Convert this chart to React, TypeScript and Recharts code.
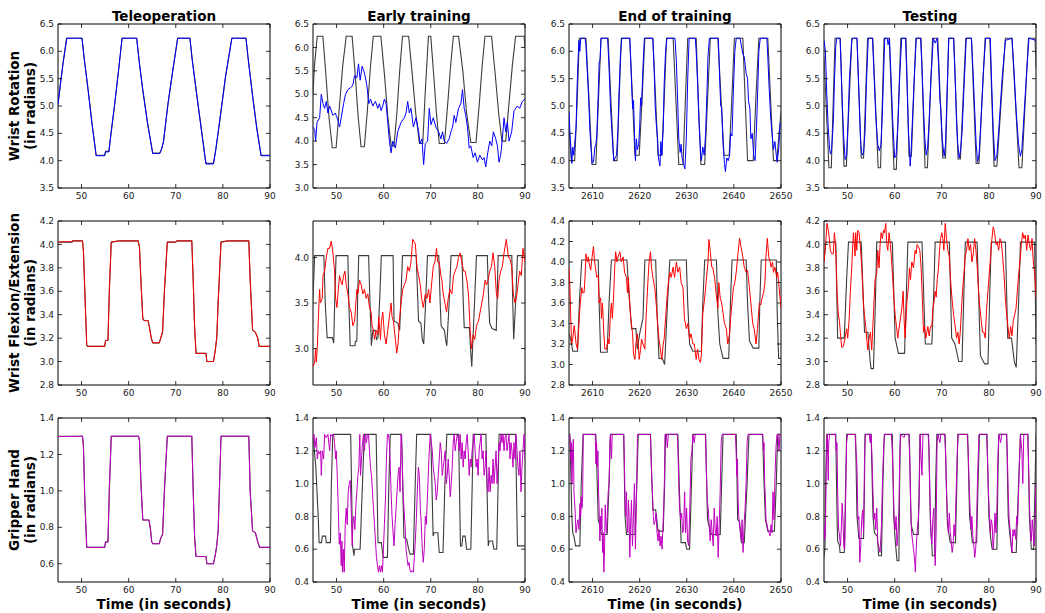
import React from 'react';
import { LineChart, Line, XAxis, YAxis, ReferenceArea } from 'recharts';

type Pt = [number, number];

// ---------- tick labels ----------
const xTicksSec = [50, 60, 70, 80, 90];
const xTicksEnd = [2610, 2620, 2630, 2640, 2650];
const yTicksRot = [3.5, 4.0, 4.5, 5.0, 5.5, 6.0, 6.5];
const yTicksRotEarly = [3.0, 3.5, 4.0, 4.5, 5.0, 5.5, 6.0, 6.5];
const yTicksFlex = [2.8, 3.0, 3.2, 3.4, 3.6, 3.8, 4.0, 4.2];
const yTicksFlexEarly = [3.0, 3.5, 4.0];
const yTicksFlexEnd = [2.8, 3.0, 3.2, 3.4, 3.6, 3.8, 4.0, 4.2, 4.4];
const yTicksGripTele = [0.6, 0.8, 1.0, 1.2, 1.4];
const yTicksGrip = [0.4, 0.6, 0.8, 1.0, 1.2, 1.4];

const columnTitles = ['Teleoperation', 'Early training', 'End of training', 'Testing'];
const rowLabels = ['Wrist Rotation', 'Wrist Flexion/Extension', 'Gripper Hand'];
const rowSubLabel = '(in radians)';
const xLabel = 'Time (in seconds)';

// ---------- Wrist rotation ----------
const rotTeleRef: Pt[] = [[45,5.05],[45.5,5.4],[46.1,5.8],[46.8,6.24],[50.1,6.24],[50.6,5.85],[51.4,5.3],[52.2,4.7],[53.1,4.1],[54.9,4.1],[55.1,4.17],[55.8,4.17],[56.2,4.45],[57.0,5.0],[57.8,5.6],[58.6,6.24],[61.7,6.24],[62.2,5.85],[63.0,5.3],[64.0,4.7],[65.1,4.14],[66.6,4.14],[67.0,4.22],[67.4,4.35],[68.3,5.0],[69.3,5.6],[70.4,6.24],[73.0,6.24],[73.5,5.85],[74.4,5.25],[75.4,4.6],[76.4,3.95],[78.0,3.95],[78.5,4.2],[79.3,4.7],[80.6,5.55],[81.9,6.24],[84.9,6.24],[85.4,5.85],[86.3,5.2],[87.2,4.6],[88.1,4.1],[90,4.1]];
const rotTeleAct: Pt[] = [[45,5.02],[45.5,5.38],[46.1,5.8],[46.9,6.24],[50.1,6.24],[50.6,5.83],[51.4,5.28],[52.2,4.68],[53.1,4.09],[54.9,4.09],[55.1,4.16],[55.8,4.16],[56.2,4.47],[57.0,5.02],[57.8,5.62],[58.6,6.24],[61.7,6.24],[62.2,5.83],[63.0,5.28],[64.0,4.68],[65.1,4.13],[66.6,4.13],[67.0,4.21],[67.4,4.36],[68.3,5.02],[69.3,5.62],[70.4,6.24],[73.0,6.24],[73.5,5.83],[74.4,5.23],[75.4,4.58],[76.4,3.94],[78.0,3.94],[78.5,4.21],[79.3,4.72],[80.6,5.57],[81.9,6.24],[84.9,6.24],[85.4,5.83],[86.3,5.18],[87.2,4.58],[88.1,4.09],[90,4.09]];

const rotEarlyRef: Pt[] = [[45,5.0],[45.3,5.6],[45.9,6.24],[47.1,6.24],[47.6,5.6],[48.4,4.5],[49.1,3.86],[49.9,3.86],[50.5,4.6],[51.3,5.6],[52.05,6.24],[53.3,6.24],[53.9,5.5],[54.6,4.5],[55.2,3.88],[55.9,3.88],[56.5,4.6],[57.2,5.6],[57.8,6.24],[59.4,6.24],[60.1,5.5],[60.9,4.5],[61.6,3.9],[62.2,3.9],[62.8,4.6],[63.4,5.5],[64.0,6.24],[65.3,6.24],[66.0,5.5],[66.8,4.6],[67.6,3.95],[68.3,3.95],[68.8,5.0],[69.5,6.24],[70.0,6.24],[70.7,5.3],[71.2,4.6],[71.8,3.95],[72.9,3.95],[73.6,4.8],[74.2,5.6],[74.8,6.24],[75.9,6.24],[76.8,5.5],[77.6,4.6],[78.5,3.97],[79.6,3.97],[80.3,4.8],[80.9,5.6],[81.5,6.24],[82.9,6.24],[83.7,5.4],[84.4,4.6],[85.1,4.0],[85.9,4.0],[86.6,4.8],[87.3,5.6],[88.0,6.24],[89.8,6.24],[90,6.0]];
const rotEarlyAct: Pt[] = [[45.0,4.3],[45.35,4.25],[45.56,4.0],[45.85,4.4],[46.41,4.5],[46.76,5.0],[47.12,4.8],[47.47,4.7],[47.82,4.85],[48.17,4.6],[48.53,4.75],[49.23,4.55],[49.72,4.6],[50.29,4.45],[50.64,4.3],[50.99,4.5],[51.49,4.8],[51.91,5.0],[52.4,5.1],[53.11,5.15],[53.46,5.2],[53.82,5.4],[54.31,5.35],[54.66,5.65],[55.01,5.3],[55.44,5.6],[55.93,5.45],[56.42,5.2],[56.85,4.8],[57.2,4.9],[57.69,4.75],[58.26,4.85],[58.75,4.7],[59.1,4.8],[59.46,4.65],[59.81,4.75],[60.16,4.9],[60.51,4.8],[60.87,4.4],[61.22,4.0],[61.57,3.75],[61.93,4.0],[62.49,3.85],[62.98,4.2],[63.69,4.4],[64.39,4.5],[64.75,4.6],[65.1,4.85],[65.45,4.6],[65.8,4.7],[66.3,4.3],[66.86,4.5],[67.43,4.2],[67.71,3.95],[68.13,4.05],[68.48,3.5],[68.84,3.95],[69.33,4.0],[69.68,4.7],[70.04,4.35],[70.53,4.5],[71.09,4.3],[71.66,4.2],[72.15,4.05],[72.5,4.2],[72.86,4.0],[73.35,3.95],[73.91,4.05],[74.27,4.2],[74.62,4.3],[74.97,4.55],[75.32,4.4],[75.89,4.7],[76.38,4.8],[76.74,5.1],[77.09,4.7],[77.44,4.55],[77.79,4.3],[78.15,3.85],[78.5,3.9],[78.99,3.65],[79.41,3.75],[79.91,3.55],[80.4,3.7],[80.97,3.6],[81.32,3.65],[81.67,3.45],[82.09,3.75],[82.52,4.0],[82.94,3.9],[83.29,4.2],[83.79,4.05],[84.14,3.9],[84.49,3.55],[84.84,3.7],[85.2,4.05],[85.55,4.5],[85.9,4.2],[86.26,4.4],[86.61,4.0],[87.17,4.2],[87.67,4.65],[88.37,4.75],[88.86,4.7],[89.43,4.85],[90.0,4.9]];

const rotEndRef: Pt[] = [[2605,4.6],[2605.5,4.0],[2606.2,4.0],[2606.7,5.0],[2607.2,6.24],[2608.6,6.24],[2609.2,5.2],[2609.9,3.93],[2610.7,3.93],[2611.2,5.0],[2611.8,6.24],[2613.3,6.24],[2613.9,5.1],[2614.5,4.0],[2615.2,4.0],[2615.6,5.0],[2616.1,6.24],[2617.9,6.24],[2618.5,5.1],[2619.0,4.1],[2619.9,4.1],[2620.5,5.1],[2621.1,6.24],[2622.8,6.24],[2623.4,5.1],[2623.9,4.1],[2624.7,4.1],[2625.2,5.1],[2625.7,6.24],[2627.1,6.24],[2627.7,5.1],[2628.3,3.93],[2629.2,3.93],[2629.7,5.1],[2630.2,6.24],[2632.0,6.24],[2632.5,5.0],[2633.0,3.93],[2633.8,3.93],[2634.4,5.1],[2635.0,6.24],[2636.6,6.24],[2637.3,5.1],[2637.9,4.1],[2639.0,4.1],[2639.6,5.2],[2640.1,6.24],[2641.9,6.24],[2642.4,5.1],[2642.9,4.0],[2644.1,4.0],[2644.7,5.2],[2645.3,6.24],[2647.2,6.24],[2647.8,5.1],[2648.4,4.0],[2649.1,4.0],[2650,4.9]];
const rotEndAct: Pt[] = [[2605.0,4.9],[2605.2,4.5],[2605.6,3.95],[2605.8,4.25],[2606.0,4.1],[2606.2,4.3],[2606.5,4.6],[2606.7,5.3],[2606.9,5.8],[2607.1,6.2],[2607.3,6.0],[2607.5,6.24],[2608.4,6.24],[2608.6,6.1],[2608.9,5.6],[2609.2,5.1],[2609.4,4.6],[2609.7,4.2],[2609.9,3.95],[2610.2,3.98],[2610.5,4.25],[2610.7,4.3],[2610.9,4.45],[2611.2,5.2],[2611.4,5.8],[2611.6,5.85],[2611.8,6.24],[2613.2,6.24],[2613.5,5.7],[2613.8,5.0],[2614.2,4.4],[2614.5,4.0],[2614.8,4.05],[2615.1,4.1],[2615.4,4.6],[2615.6,5.2],[2615.9,5.9],[2616.2,6.24],[2617.9,6.24],[2618.2,5.6],[2618.5,4.95],[2618.7,5.1],[2618.9,4.5],[2619.1,4.0],[2619.3,4.4],[2619.5,4.2],[2619.8,4.3],[2620.0,4.6],[2620.2,5.15],[2620.4,5.0],[2620.7,5.7],[2621.0,6.24],[2622.8,6.24],[2623.1,5.6],[2623.3,5.0],[2623.5,4.7],[2623.8,4.4],[2624.0,4.05],[2624.3,3.9],[2624.5,4.35],[2624.7,4.1],[2625.0,4.6],[2625.2,5.4],[2625.5,6.0],[2625.8,6.24],[2627.5,6.24],[2627.8,5.8],[2628.1,5.0],[2628.3,4.4],[2628.6,4.15],[2628.8,4.3],[2629.0,4.05],[2629.3,3.95],[2629.6,3.85],[2629.9,4.4],[2630.2,5.5],[2630.5,6.24],[2631.8,6.24],[2632.0,6.0],[2632.3,5.4],[2632.6,4.7],[2632.9,4.2],[2633.1,4.0],[2633.4,4.25],[2633.7,4.1],[2634.0,4.5],[2634.3,5.3],[2634.5,5.9],[2634.8,6.24],[2636.7,6.24],[2636.9,5.7],[2637.2,5.0],[2637.4,4.98],[2637.7,4.3],[2638.0,3.95],[2638.2,3.8],[2638.5,4.05],[2638.8,4.0],[2639.1,4.1],[2639.3,4.5],[2639.6,4.45],[2639.9,5.3],[2640.2,6.0],[2640.5,6.24],[2641.3,6.24],[2641.6,6.1],[2641.9,5.95],[2642.2,5.9],[2642.6,5.6],[2642.9,5.5],[2643.1,5.1],[2643.4,4.95],[2643.6,4.4],[2643.9,4.5],[2644.2,4.1],[2644.5,4.0],[2644.8,4.6],[2645.1,5.4],[2645.3,6.0],[2645.6,6.24],[2647.0,6.24],[2647.2,5.9],[2647.5,5.3],[2647.8,4.8],[2648.1,4.5],[2648.4,4.2],[2648.7,4.35],[2649.0,4.1],[2649.2,3.97],[2649.5,4.2],[2649.8,4.65],[2650.0,4.7]];

const rotTestRef: Pt[] = [[45,5.9],[46.05,3.87],[46.55,3.87],[47.35,6.24],[48.45,6.24],[49.25,3.9],[49.75,3.9],[50.9,6.24],[52.0,6.24],[52.9,4.05],[53.4,4.05],[54.25,6.24],[55.35,6.24],[56.5,3.87],[57.0,3.87],[57.75,6.24],[58.85,6.24],[59.85,3.84],[60.35,3.84],[61.3,6.24],[62.4,6.24],[63.05,4.08],[63.55,4.08],[64.5,6.24],[65.6,6.24],[66.45,3.87],[66.95,3.87],[68.05,6.24],[69.15,6.24],[70.2,4.05],[70.8,4.05],[71.45,6.24],[72.55,6.24],[73.45,4.03],[73.95,4.03],[75.1,6.24],[76.3,6.24],[77.3,3.95],[77.9,3.95],[79.2,6.24],[80.2,6.24],[81.1,3.9],[81.7,3.9],[83.5,6.24],[84.9,6.24],[86.4,3.87],[87.0,3.87],[88.4,6.24],[89.8,6.24],[90,5.7]];
const rotTestAct: Pt[] = [[45,6.2],[45.3,6.0],[45.6,5.2],[45.9,4.6],[46.2,4.2],[46.4,4.12],[46.6,4.2],[46.8,4.45],[47.0,4.75],[47.2,5.4],[47.5,6.1],[47.7,6.24],[48.4,6.24],[48.6,5.8],[48.9,5.0],[49.2,4.4],[49.5,4.02],[49.8,4.1],[50.1,4.7],[50.4,5.5],[50.9,6.2],[51.1,6.24],[52.0,6.24],[52.3,5.5],[52.6,4.75],[52.8,4.3],[53.1,4.1],[53.4,4.15],[53.7,4.5],[54.0,5.4],[54.4,6.24],[55.3,6.24],[55.6,5.6],[56.0,4.8],[56.4,4.3],[56.75,4.18],[57.1,4.3],[57.4,4.9],[57.9,6.24],[58.4,6.24],[58.6,6.12],[58.9,6.24],[59.2,5.6],[59.6,4.7],[60.0,4.05],[60.3,4.1],[60.7,4.7],[61.1,5.6],[61.5,6.24],[62.3,6.24],[62.6,5.5],[62.9,4.6],[63.3,3.9],[63.5,4.2],[63.8,4.8],[64.2,5.6],[64.6,6.24],[65.5,6.24],[65.8,5.7],[66.1,5.0],[66.4,4.4],[66.7,4.1],[67.0,4.25],[67.3,4.7],[67.7,5.5],[68.2,6.24],[68.6,6.15],[69.0,6.24],[69.3,5.8],[69.6,5.1],[69.8,4.95],[70.1,4.4],[70.5,4.08],[70.8,4.3],[71.1,5.2],[71.5,6.24],[72.5,6.24],[72.8,5.6],[73.1,4.8],[73.4,4.3],[73.7,4.05],[74.0,4.2],[74.3,4.5],[74.7,5.3],[75.2,6.24],[76.3,6.24],[76.6,5.7],[77.0,4.9],[77.3,4.3],[77.6,3.98],[77.9,4.1],[78.3,4.7],[78.8,5.6],[79.3,6.24],[80.3,6.24],[80.6,5.4],[80.9,4.6],[81.3,4.0],[81.7,4.1],[82.2,4.7],[82.8,5.5],[83.5,6.2],[84.9,6.24],[85.3,5.7],[85.8,4.9],[86.3,4.3],[86.7,4.08],[87.0,4.2],[87.5,4.9],[88.0,5.6],[88.5,6.24],[90,6.2]];

// ---------- Wrist flexion / extension ----------
const flexTeleRef: Pt[] = [[45,4.02],[48,4.02],[48.1,4.03],[50.2,4.03],[50.4,3.95],[50.7,3.6],[51.1,3.14],[51.3,3.13],[54.9,3.13],[55.1,3.18],[55.6,3.18],[55.9,3.6],[56.3,4.02],[58,4.03],[62.0,4.03],[62.3,3.98],[62.6,3.7],[63.0,3.37],[63.3,3.35],[64.1,3.35],[64.4,3.3],[64.8,3.2],[65.1,3.16],[66.5,3.16],[66.8,3.2],[67.2,3.25],[67.6,3.6],[68.2,4.02],[70,4.02],[70.2,4.03],[73.4,4.03],[73.7,3.7],[74.0,3.3],[74.3,3.07],[76.4,3.07],[76.6,3.0],[78.0,3.0],[78.4,3.1],[78.7,3.2],[79.0,3.5],[79.6,4.02],[81,4.03],[85.5,4.03],[85.8,3.7],[86.3,3.27],[86.9,3.25],[87.4,3.2],[87.7,3.13],[90,3.13]];
const flexTeleAct: Pt[] = [[45,4.02],[48,4.025],[48.1,4.03],[50.2,4.03],[50.4,3.94],[50.7,3.58],[51.1,3.14],[51.3,3.13],[54.9,3.13],[55.1,3.18],[55.6,3.18],[55.9,3.62],[56.3,4.02],[58,4.03],[62.0,4.03],[62.3,3.97],[62.6,3.68],[63.0,3.36],[63.3,3.35],[64.1,3.35],[64.4,3.29],[64.8,3.2],[65.1,3.16],[66.5,3.16],[66.8,3.2],[67.2,3.26],[67.6,3.62],[68.2,4.02],[70,4.02],[70.2,4.03],[73.4,4.03],[73.7,3.68],[74.0,3.28],[74.3,3.07],[76.4,3.07],[76.6,3.0],[78.0,3.0],[78.4,3.1],[78.7,3.21],[79.0,3.52],[79.6,4.02],[81,4.03],[85.5,4.03],[85.8,3.68],[86.3,3.27],[86.9,3.25],[87.4,3.2],[87.7,3.13],[90,3.13]];

const flexEarlyRef: Pt[] = [[45,3.55],[45.35,4.02],[47.3,4.02],[47.6,3.5],[48.0,3.12],[49.1,3.12],[49.4,3.06],[49.6,3.5],[49.9,4.02],[52.4,4.02],[52.6,3.5],[52.9,3.03],[53.9,3.03],[54.0,3.08],[54.3,3.08],[54.5,3.6],[54.7,4.02],[56.8,4.02],[57.1,3.5],[57.4,3.03],[57.7,3.2],[58.2,3.2],[58.5,3.1],[58.8,3.12],[59.2,3.6],[59.5,4.02],[62.0,4.02],[62.2,3.3],[63.0,3.28],[63.4,3.2],[63.7,3.6],[64.0,4.02],[66.9,4.02],[67.2,3.6],[67.4,3.3],[67.9,3.28],[68.2,3.1],[68.5,3.05],[68.9,3.5],[69.3,4.02],[71.7,4.02],[72.0,3.5],[72.2,3.25],[72.9,3.2],[73.2,3.08],[73.4,3.03],[73.9,3.5],[74.3,4.02],[76.6,4.02],[76.9,3.5],[77.1,3.23],[78.2,3.23],[78.5,2.95],[78.7,2.8],[79.2,3.4],[79.7,4.02],[82.0,4.02],[82.3,3.5],[82.5,3.28],[83.0,3.22],[83.9,3.2],[84.1,3.6],[84.3,4.02],[87.2,4.02],[87.4,3.5],[87.6,3.1],[88.0,3.5],[88.4,4.02],[90,4.02]];
const flexEarlyAct: Pt[] = [[45.0,2.8],[45.35,2.85],[45.56,3.0],[45.7,2.85],[45.9,3.0],[46.27,3.5],[46.41,3.65],[46.55,3.5],[46.97,3.55],[47.12,3.8],[47.47,3.85],[47.82,4.0],[48.17,4.1],[48.53,4.1],[48.88,4.18],[49.23,4.05],[49.58,3.85],[49.8,3.55],[50.08,3.45],[50.29,3.6],[50.64,3.8],[50.85,3.75],[51.2,3.7],[51.49,3.8],[51.77,3.85],[52.05,3.7],[52.4,3.6],[52.76,3.45],[53.11,3.4],[53.46,3.25],[53.82,3.3],[54.31,3.65],[54.52,3.6],[54.87,3.75],[55.23,3.7],[55.58,3.6],[55.93,3.65],[56.28,3.55],[56.64,3.6],[56.99,3.45],[57.34,3.4],[57.55,3.25],[57.83,3.2],[58.05,3.1],[58.4,3.2],[58.75,3.15],[58.96,3.35],[59.32,3.1],[59.53,3.3],[59.81,3.4],[60.16,3.15],[60.51,3.05],[60.87,3.2],[61.22,3.35],[61.57,3.5],[61.78,3.35],[62.07,3.3],[62.49,3.1],[62.77,2.95],[63.05,3.05],[63.34,3.3],[63.69,3.5],[64.04,3.65],[64.39,3.7],[64.75,3.75],[65.1,3.9],[65.45,3.85],[65.8,3.95],[66.16,4.2],[66.72,4.15],[67.07,3.9],[67.43,3.8],[67.78,3.7],[68.06,3.55],[68.41,3.45],[68.84,3.6],[69.19,3.55],[69.54,3.65],[69.82,3.5],[70.25,3.75],[70.53,3.9],[70.88,3.95],[71.23,4.1],[71.45,3.95],[71.8,3.95],[72.15,3.8],[72.36,3.75],[72.64,3.6],[73.0,3.5],[73.35,3.4],[73.7,3.55],[74.06,3.65],[74.48,3.6],[74.83,3.8],[75.18,3.85],[75.54,3.9],[75.89,4.0],[76.24,4.05],[76.59,3.95],[76.95,3.85],[77.3,3.85],[77.65,3.75],[78.0,3.6],[78.36,3.2],[78.64,3.0],[78.99,3.15],[79.34,3.1],[79.7,3.25],[80.12,3.3],[80.47,3.4],[80.83,3.5],[81.18,3.6],[81.53,3.75],[81.81,3.7],[82.16,3.75],[82.52,3.85],[82.87,3.9],[83.22,4.05],[83.58,3.9],[83.93,3.6],[84.21,3.55],[84.49,3.75],[84.84,3.85],[85.2,3.9],[85.55,4.05],[86.04,4.2],[86.47,4.0],[86.75,4.0],[87.17,3.9],[87.52,3.6],[87.88,3.5],[88.16,3.55],[88.51,3.7],[88.86,3.85],[89.22,3.8],[89.57,4.1],[90.0,3.95]];

const flexEndRef: Pt[] = [[2605,3.3],[2605.35,3.25],[2605.8,3.13],[2606.8,3.13],[2607.2,3.6],[2607.7,4.02],[2611.2,4.02],[2611.4,3.6],[2611.7,3.12],[2613.1,3.12],[2613.5,3.6],[2614.0,4.02],[2617.3,4.02],[2617.7,3.7],[2618.3,3.35],[2619.2,3.35],[2619.5,3.15],[2620.0,3.3],[2620.7,3.45],[2621.1,4.02],[2623.4,4.02],[2623.7,3.5],[2624.1,3.06],[2624.8,3.06],[2625.3,3.0],[2625.8,3.5],[2626.4,4.02],[2629.9,4.02],[2630.2,3.6],[2630.6,3.2],[2631.3,3.13],[2633.1,3.13],[2633.4,3.6],[2633.8,4.02],[2636.3,4.02],[2636.6,3.5],[2637.0,3.2],[2637.7,3.06],[2638.9,3.06],[2639.2,3.5],[2639.6,4.02],[2642.6,4.02],[2642.9,3.6],[2643.3,3.23],[2644.1,3.16],[2645.3,3.16],[2645.5,3.6],[2645.8,4.02],[2649.0,4.02],[2649.2,3.5],[2649.5,3.06],[2650,3.06]];
const flexEndAct: Pt[] = [[2605,3.95],[2605.2,3.75],[2605.35,3.5],[2605.55,3.2],[2605.8,3.25],[2606.1,3.38],[2606.3,3.3],[2606.5,3.2],[2606.8,3.15],[2607.0,3.3],[2607.3,3.55],[2607.7,3.75],[2607.9,3.7],[2608.2,3.7],[2608.4,3.85],[2608.6,4.08],[2608.9,4.0],[2609.1,4.05],[2609.3,3.98],[2609.6,3.92],[2609.9,4.05],[2610.2,4.15],[2610.4,4.02],[2610.6,3.95],[2610.9,3.85],[2611.2,3.87],[2611.4,3.6],[2611.7,3.65],[2611.9,3.45],[2612.1,3.6],[2612.4,3.3],[2612.6,3.15],[2612.96,3.15],[2613.3,3.25],[2613.5,3.2],[2613.8,3.5],[2614.0,3.6],[2614.2,3.45],[2614.5,3.7],[2614.7,3.95],[2614.9,4.1],[2615.2,4.0],[2615.4,4.05],[2615.8,4.1],[2616.1,4.0],[2616.5,4.05],[2616.8,3.9],[2617.2,3.85],[2617.4,3.7],[2617.6,3.85],[2617.9,3.6],[2618.1,3.45],[2618.5,3.3],[2618.7,3.1],[2619.0,3.05],[2619.2,3.2],[2619.5,3.3],[2619.7,3.2],[2619.9,3.05],[2620.2,3.15],[2620.4,3.25],[2620.7,3.2],[2621.1,3.15],[2621.4,3.5],[2621.8,3.85],[2622.0,4.0],[2622.3,4.1],[2622.5,3.95],[2622.8,3.85],[2623.2,3.75],[2623.5,3.6],[2623.9,3.35],[2624.1,3.25],[2624.4,3.15],[2624.7,3.05],[2625.0,3.2],[2625.2,3.25],[2625.5,3.45],[2625.8,3.65],[2626.1,3.8],[2626.4,3.9],[2626.7,3.85],[2627.1,3.95],[2627.4,3.85],[2627.8,4.0],[2628.1,3.9],[2628.5,3.95],[2628.8,3.8],[2629.2,3.75],[2629.5,3.45],[2629.9,3.35],[2630.2,3.4],[2630.6,3.25],[2630.9,3.3],[2631.3,3.2],[2631.6,3.2],[2632.0,3.05],[2632.3,3.15],[2632.6,3.05],[2632.9,3.02],[2633.1,3.1],[2633.4,3.5],[2633.8,3.65],[2634.1,3.8],[2634.5,4.0],[2634.7,4.22],[2635.0,4.1],[2635.3,3.95],[2635.5,3.95],[2635.9,3.85],[2636.2,3.7],[2636.6,3.55],[2636.8,3.8],[2637.1,3.65],[2637.4,3.6],[2637.7,3.5],[2638.0,3.4],[2638.4,3.35],[2638.7,3.2],[2639.1,3.3],[2639.3,3.45],[2639.6,3.6],[2639.9,3.75],[2640.2,3.8],[2640.5,3.9],[2640.8,4.05],[2641.2,4.23],[2641.5,4.15],[2641.9,4.05],[2642.2,3.95],[2642.6,3.9],[2642.9,3.92],[2643.3,3.75],[2643.6,3.6],[2644.0,3.4],[2644.3,3.35],[2644.7,3.2],[2645.0,3.35],[2645.4,3.6],[2645.7,3.58],[2646.0,3.65],[2646.3,3.7],[2646.6,3.8],[2646.8,4.05],[2647.1,4.23],[2647.4,4.05],[2647.7,4.0],[2647.9,3.95],[2648.2,4.0],[2648.4,3.9],[2648.7,3.95],[2649.1,3.85],[2649.3,3.9],[2649.6,3.75],[2650,3.55]];

const flexTestRef: Pt[] = [[45,3.85],[45.4,4.02],[47.5,4.02],[47.9,3.2],[49.3,3.2],[49.8,3.7],[50.2,4.02],[52.9,4.02],[53.6,3.25],[54.3,3.25],[54.8,3.0],[55.0,2.94],[55.5,2.94],[55.9,3.5],[56.2,4.02],[59.5,4.02],[60.1,3.2],[60.8,3.07],[62.1,3.07],[62.5,3.6],[62.8,4.02],[65.8,4.02],[66.5,3.15],[67.9,3.15],[68.3,3.6],[68.6,4.02],[71.6,4.02],[72.1,3.2],[72.8,3.15],[73.6,3.0],[74.3,3.0],[74.7,3.6],[75.0,4.02],[77.5,4.02],[78.2,3.05],[79.1,2.98],[79.8,2.98],[80.2,3.6],[80.5,4.02],[83.5,4.02],[84.0,3.2],[84.8,3.2],[85.4,3.0],[85.8,2.95],[86.3,3.5],[86.7,4.02],[89.7,4.02],[90,3.15]];
const flexTestAct: Pt[] = [[45.0,3.85],[45.21,3.95],[45.43,4.05],[45.64,4.18],[45.92,4.12],[46.13,4.05],[46.35,3.95],[46.63,3.92],[46.98,3.92],[47.2,4.1],[47.34,4.05],[47.55,3.9],[47.76,3.6],[48.05,3.4],[48.26,3.35],[48.47,3.25],[48.76,3.12],[49.11,3.13],[49.46,3.2],[49.82,3.28],[50.03,3.2],[50.32,3.35],[50.6,3.6],[50.88,3.8],[51.24,4.1],[51.45,4.0],[51.59,3.9],[51.73,4.1],[51.95,3.95],[52.16,4.12],[52.44,4.1],[52.73,3.98],[53.01,3.8],[53.36,3.5],[53.58,3.4],[53.86,3.3],[54.07,3.2],[54.28,3.1],[54.57,3.2],[54.85,3.25],[55.13,3.1],[55.49,3.4],[55.84,3.7],[56.2,3.75],[56.41,3.95],[56.69,3.8],[56.91,4.0],[57.12,4.1],[57.4,4.05],[57.62,4.12],[57.83,4.1],[58.11,4.18],[58.32,4.0],[58.54,3.95],[58.82,4.1],[59.03,4.02],[59.25,3.92],[59.53,3.75],[59.81,3.55],[60.1,3.4],[60.38,3.3],[60.66,3.2],[60.8,3.25],[61.16,3.35],[61.51,3.45],[61.8,3.6],[62.01,3.35],[62.22,3.2],[62.58,3.5],[62.93,3.65],[63.14,3.8],[63.36,3.7],[63.64,3.85],[63.99,3.8],[64.35,3.95],[64.56,3.92],[64.77,4.0],[65.06,3.98],[65.34,3.95],[65.62,3.8],[65.91,3.5],[66.12,3.25],[66.33,3.3],[66.62,3.2],[66.83,3.25],[67.04,3.3],[67.32,3.22],[67.61,3.3],[67.89,3.3],[68.1,3.45],[68.32,3.5],[68.6,3.6],[68.81,3.55],[69.03,3.7],[69.31,3.8],[69.52,3.95],[69.73,4.05],[70.02,4.1],[70.23,4.05],[70.44,3.95],[70.73,4.18],[71.01,4.05],[71.29,3.95],[71.58,3.9],[71.86,3.7],[72.14,3.55],[72.5,3.4],[72.85,3.3],[73.14,3.2],[73.42,3.25],[73.7,3.15],[73.92,3.25],[74.13,3.4],[74.41,3.6],[74.7,3.75],[74.98,3.9],[75.26,3.95],[75.55,4.05],[75.83,3.95],[76.11,4.0],[76.4,3.85],[76.68,3.92],[76.96,4.05],[77.25,3.95],[77.53,3.8],[77.81,3.6],[78.1,3.45],[78.38,3.35],[78.66,3.25],[78.95,3.25],[79.23,3.2],[79.51,3.45],[79.8,3.6],[80.08,3.75],[80.36,3.9],[80.65,4.05],[80.93,4.15],[81.21,4.1],[81.5,4.0],[81.78,4.02],[82.07,3.95],[82.35,4.05],[82.63,4.02],[82.92,3.9],[83.2,3.75],[83.48,3.55],[83.77,3.4],[84.05,3.3],[84.33,3.2],[84.62,3.3],[84.9,3.22],[85.18,3.35],[85.47,3.4],[85.75,3.45],[86.03,3.6],[86.32,3.75],[86.6,3.85],[86.88,4.0],[87.17,4.1],[87.45,4.05],[87.73,4.08],[88.02,3.95],[88.3,4.08],[88.58,4.0],[88.87,3.95],[89.15,4.05],[89.43,3.85],[89.72,3.75],[90.0,3.55]];

// ---------- Gripper hand ----------
const gripTeleRef: Pt[] = [[45,1.3],[50.2,1.3],[50.4,1.25],[50.7,0.95],[51.1,0.69],[54.9,0.69],[55.1,0.72],[55.6,0.72],[55.9,1.0],[56.3,1.3],[62.1,1.3],[62.3,1.28],[62.6,1.05],[63.0,0.84],[64.3,0.84],[64.6,0.8],[64.9,0.72],[65.1,0.71],[66.5,0.71],[66.8,0.74],[67.2,0.76],[67.6,1.0],[68.2,1.3],[73.4,1.3],[73.7,1.0],[74.0,0.75],[74.3,0.64],[76.4,0.64],[76.6,0.6],[78.0,0.6],[78.4,0.65],[78.7,0.7],[79.0,0.78],[79.6,1.3],[85.5,1.3],[85.8,1.0],[86.3,0.78],[86.9,0.77],[87.4,0.72],[87.8,0.69],[90,0.69]];
const gripTeleAct: Pt[] = [[45,1.298],[50.2,1.3],[50.4,1.24],[50.7,0.94],[51.1,0.69],[54.9,0.69],[55.1,0.72],[55.6,0.72],[55.9,1.02],[56.3,1.3],[62.1,1.3],[62.3,1.27],[62.6,1.04],[63.0,0.84],[64.3,0.84],[64.6,0.79],[64.9,0.72],[65.1,0.71],[66.5,0.71],[66.8,0.74],[67.2,0.76],[67.6,1.02],[68.2,1.3],[73.4,1.3],[73.7,0.99],[74.0,0.74],[74.3,0.64],[76.4,0.64],[76.6,0.6],[78.0,0.6],[78.4,0.65],[78.7,0.7],[79.0,0.79],[79.6,1.3],[85.5,1.3],[85.8,0.99],[86.3,0.78],[86.9,0.77],[87.4,0.72],[87.8,0.69],[90,0.69]];

const gripEarlyRef: Pt[] = [[45,1.3],[45.6,1.1],[46.1,0.8],[46.3,0.64],[46.8,0.64],[47.0,0.68],[47.7,0.68],[47.8,0.64],[48.7,0.64],[48.9,1.0],[49.2,1.3],[53.0,1.3],[53.4,0.62],[53.7,0.56],[53.8,0.6],[55.0,0.6],[55.5,1.0],[55.9,1.3],[58.4,1.3],[58.8,0.64],[59.5,0.64],[59.9,0.55],[60.8,0.55],[61.1,1.0],[61.4,1.3],[63.8,1.3],[64.3,0.67],[64.9,0.66],[65.3,0.6],[65.6,0.57],[66.3,0.57],[66.7,1.0],[67.0,1.3],[70.0,1.3],[70.5,0.68],[70.7,0.7],[71.5,0.7],[71.8,0.58],[72.6,0.58],[73.0,1.0],[73.4,1.3],[75.9,1.3],[76.3,0.62],[76.6,0.62],[76.8,0.68],[77.3,0.68],[77.6,0.6],[78.5,0.6],[78.8,1.0],[79.0,1.3],[81.7,1.3],[82.2,0.62],[82.4,0.65],[83.1,0.65],[83.4,0.6],[84.0,0.6],[84.3,1.0],[84.5,1.3],[88.0,1.3],[88.4,0.62],[90,0.62]];
const gripEarlyAct: Pt[] = [[45.0,1.27],[45.21,1.3],[45.42,1.22],[45.71,1.28],[45.92,1.15],[46.13,1.2],[46.41,1.18],[46.62,1.2],[46.76,1.05],[46.97,1.2],[47.26,1.15],[47.47,1.3],[47.82,1.28],[48.17,1.3],[48.53,1.2],[48.74,1.3],[49.02,1.29],[49.37,1.3],[49.58,1.25],[49.8,1.15],[49.94,1.2],[50.15,1.05],[50.36,0.85],[50.57,0.63],[50.78,0.7],[50.99,0.5],[51.14,0.65],[51.28,0.46],[51.42,0.6],[51.63,0.46],[51.84,0.75],[52.05,0.85],[52.26,0.75],[52.48,0.95],[52.69,1.0],[52.9,1.02],[53.11,0.85],[53.32,0.62],[53.46,0.75],[53.67,0.8],[53.89,0.72],[54.1,0.87],[54.31,0.95],[54.52,1.05],[54.73,1.1],[54.94,1.3],[55.08,1.05],[55.3,1.15],[55.51,1.25],[55.72,1.3],[55.93,1.2],[56.14,1.3],[56.35,1.25],[56.57,1.3],[56.78,1.3],[56.99,1.2],[57.2,1.1],[57.41,1.05],[57.62,0.95],[57.83,0.85],[58.05,0.75],[58.26,0.65],[58.47,0.55],[58.68,0.5],[58.89,0.46],[59.1,0.5],[59.32,0.46],[59.53,0.5],[59.74,0.46],[59.95,0.6],[60.16,0.75],[60.37,0.9],[60.59,1.15],[60.8,1.3],[61.01,1.3],[61.22,1.25],[61.36,1.15],[61.57,0.95],[61.78,0.8],[62.0,0.7],[62.21,0.62],[62.42,0.75],[62.63,0.85],[62.84,0.95],[63.05,1.05],[63.27,1.1],[63.48,0.95],[63.69,1.3],[63.9,1.2],[64.11,0.95],[64.32,0.85],[64.53,0.75],[64.75,0.6],[64.96,0.55],[65.17,0.5],[65.38,0.52],[65.59,0.47],[65.8,0.46],[66.02,0.47],[66.3,0.46],[66.51,0.55],[66.72,0.65],[66.93,0.78],[67.14,0.95],[67.36,1.1],[67.57,1.05],[67.78,0.85],[67.99,0.75],[68.2,0.6],[68.41,0.52],[68.62,0.6],[68.84,0.8],[69.05,0.75],[69.26,0.9],[69.47,1.05],[69.68,1.2],[69.89,1.3],[70.11,1.25],[70.32,1.2],[70.53,1.1],[70.74,1.05],[70.95,1.0],[71.16,0.9],[71.38,0.95],[71.59,1.05],[71.8,1.15],[72.01,1.25],[72.22,1.2],[72.43,1.05],[72.64,1.1],[72.86,1.15],[73.07,1.2],[73.28,1.0],[73.49,1.05],[73.7,1.15],[73.91,1.05],[74.13,0.92],[74.34,1.0],[74.55,1.1],[74.76,1.25],[74.97,1.3],[75.18,1.2],[75.39,1.25],[75.61,1.3],[75.82,1.28],[76.03,1.2],[76.24,1.3],[76.45,1.15],[76.66,1.25],[76.88,1.1],[77.09,1.2],[77.3,1.15],[77.51,1.25],[77.72,1.3],[77.93,1.2],[78.15,1.05],[78.36,1.15],[78.57,1.1],[78.78,1.2],[78.99,1.25],[79.2,1.3],[79.41,1.2],[79.63,1.1],[79.84,1.15],[80.05,1.05],[80.26,1.2],[80.47,1.25],[80.68,1.3],[80.89,1.15],[81.11,1.2],[81.32,1.05],[81.53,1.1],[81.74,1.2],[81.95,1.0],[82.16,0.95],[82.38,1.1],[82.59,0.95],[82.8,1.05],[83.01,1.0],[83.22,1.15],[83.43,1.0],[83.65,1.1],[83.86,1.2],[84.07,1.0],[84.28,1.1],[84.49,1.25],[84.7,1.2],[84.91,1.3],[85.13,1.25],[85.34,1.3],[85.55,1.2],[85.76,1.28],[85.97,1.3],[86.18,1.2],[86.4,1.25],[86.61,1.3],[86.82,1.15],[87.03,1.25],[87.24,1.2],[87.45,1.1],[87.67,1.25],[87.88,1.15],[88.09,1.3],[88.3,1.2],[88.51,1.1],[88.72,1.05],[88.93,1.2],[89.15,0.95],[89.36,1.1],[89.57,1.2],[89.79,1.3],[90.0,1.15]];

const gripEndRef: Pt[] = [[2605,1.3],[2605.2,1.3],[2605.6,0.8],[2605.8,0.7],[2606.1,0.67],[2606.4,0.62],[2607.3,0.62],[2607.6,1.0],[2608.0,1.3],[2610.7,1.3],[2611.0,1.0],[2611.2,0.78],[2611.5,0.75],[2611.9,0.69],[2613.1,0.69],[2613.5,1.0],[2613.8,1.3],[2616.6,1.3],[2616.9,0.8],[2617.2,0.69],[2619.0,0.69],[2619.4,1.0],[2619.7,1.3],[2622.3,1.3],[2622.6,1.0],[2622.8,0.84],[2623.4,0.84],[2623.9,0.71],[2625.0,0.71],[2625.3,1.0],[2625.5,1.3],[2628.1,1.3],[2628.5,0.9],[2628.8,0.64],[2629.7,0.64],[2630.0,0.6],[2630.6,0.6],[2631.0,1.0],[2631.3,1.3],[2634.0,1.3],[2634.4,0.78],[2635.2,0.69],[2637.1,0.69],[2637.4,1.0],[2637.7,1.3],[2640.5,1.3],[2640.8,0.78],[2641.2,0.77],[2641.6,0.64],[2642.2,0.64],[2642.8,1.0],[2643.2,1.3],[2646.1,1.3],[2646.4,1.0],[2646.7,0.78],[2647.2,0.71],[2648.6,0.71],[2649.0,1.0],[2649.3,1.3],[2650,1.3]];
const gripEndAct: Pt[] = [[2605.0,1.3],[2605.21,1.28],[2605.35,1.15],[2605.49,1.25],[2605.63,1.0],[2605.78,1.2],[2605.92,1.27],[2606.06,0.95],[2606.27,0.85],[2606.48,0.7],[2606.69,0.75],[2606.9,0.78],[2607.12,0.72],[2607.33,0.88],[2607.47,0.8],[2607.61,0.92],[2607.75,0.85],[2607.89,0.9],[2608.03,1.3],[2610.57,1.3],[2610.71,1.12],[2610.85,1.25],[2610.99,1.1],[2611.14,1.2],[2611.28,0.95],[2611.42,0.82],[2611.56,0.65],[2611.7,0.8],[2611.84,0.72],[2611.98,0.85],[2612.12,0.58],[2612.26,0.7],[2612.4,0.46],[2612.55,0.6],[2612.69,0.87],[2612.83,0.75],[2612.97,0.7],[2613.11,0.8],[2613.32,0.95],[2613.53,1.0],[2613.67,1.25],[2613.82,1.3],[2614.03,1.15],[2614.17,1.3],[2616.64,1.3],[2616.78,1.1],[2616.92,0.85],[2617.06,0.8],[2617.2,0.95],[2617.34,0.75],[2617.48,0.7],[2617.62,0.9],[2617.76,0.8],[2617.91,0.55],[2618.05,0.72],[2618.26,0.9],[2618.47,0.62],[2618.68,0.8],[2618.89,1.0],[2619.1,0.6],[2619.32,0.9],[2619.53,1.3],[2622.28,1.3],[2622.49,1.1],[2622.7,0.95],[2622.91,0.8],[2623.05,0.75],[2623.27,0.77],[2623.48,0.82],[2623.69,0.7],[2623.9,0.65],[2624.11,0.72],[2624.32,0.62],[2624.53,0.68],[2624.75,0.6],[2624.96,0.75],[2625.1,0.85],[2625.24,1.0],[2625.38,1.3],[2625.66,1.3],[2625.87,1.22],[2626.09,1.3],[2628.0,1.3],[2628.13,1.2],[2628.34,0.95],[2628.48,0.85],[2628.7,0.78],[2628.91,0.82],[2629.12,0.7],[2629.33,0.72],[2629.54,0.95],[2629.75,0.7],[2629.96,0.85],[2630.18,0.65],[2630.39,0.62],[2630.6,0.8],[2630.88,1.15],[2631.09,1.2],[2631.3,1.3],[2631.59,1.25],[2631.8,1.3],[2633.98,1.3],[2634.13,1.1],[2634.34,0.9],[2634.55,0.85],[2634.76,0.75],[2634.97,0.65],[2635.18,0.78],[2635.4,0.7],[2635.61,0.62],[2635.82,0.85],[2636.03,0.72],[2636.24,0.68],[2636.45,0.8],[2636.66,0.55],[2636.88,0.75],[2637.09,0.95],[2637.3,1.25],[2637.51,1.3],[2640.33,1.3],[2640.47,1.2],[2640.61,1.05],[2640.75,1.15],[2640.9,0.9],[2641.04,0.8],[2641.18,0.75],[2641.39,0.7],[2641.6,0.65],[2641.74,0.78],[2641.95,0.58],[2642.17,0.75],[2642.38,0.85],[2642.59,1.0],[2642.8,1.25],[2643.01,1.3],[2646.11,1.3],[2646.26,1.2],[2646.4,1.25],[2646.54,1.0],[2646.68,0.92],[2646.82,0.78],[2647.03,0.75],[2647.24,0.72],[2647.45,0.7],[2647.67,0.68],[2647.88,0.75],[2648.09,0.7],[2648.3,0.95],[2648.51,0.78],[2648.73,1.05],[2648.94,1.22],[2649.15,1.3],[2649.36,1.3],[2649.57,1.2],[2649.78,1.3],[2650.0,1.3]];

const gripTestRef: Pt[] = [[45,0.55],[45.2,0.6],[45.35,1.0],[45.6,1.3],[47.5,1.3],[47.8,0.75],[47.9,0.65],[48.3,0.62],[48.4,0.58],[49.3,0.58],[49.6,1.0],[49.8,1.3],[51.7,1.3],[52.0,0.8],[52.3,0.7],[52.4,0.665],[53.4,0.665],[53.6,1.0],[53.7,1.3],[55.0,1.3],[55.4,0.8],[55.7,0.7],[56.3,0.68],[56.6,0.56],[57.2,0.56],[57.5,1.0],[57.8,1.3],[59.5,1.3],[59.8,0.8],[60.1,0.66],[60.5,0.53],[60.9,0.53],[61.05,1.0],[61.2,1.3],[63.1,1.3],[63.5,0.75],[64.0,0.69],[65.0,0.69],[65.2,1.0],[65.4,1.3],[67.2,1.3],[67.6,0.75],[67.9,0.62],[68.0,0.56],[68.5,0.56],[68.7,1.0],[68.95,1.3],[70.7,1.3],[71.2,0.75],[71.8,0.64],[72.9,0.64],[73.2,1.0],[73.4,1.3],[75.5,1.3],[75.9,0.8],[76.3,0.7],[76.5,0.64],[77.4,0.64],[77.7,1.0],[78.0,1.3],[79.6,1.3],[80.0,0.8],[80.4,0.66],[80.7,0.6],[81.7,0.6],[81.9,1.0],[82.1,1.3],[83.8,1.3],[84.1,0.8],[84.4,0.7],[84.9,0.58],[85.8,0.58],[86.3,1.0],[86.7,1.3],[88.3,1.3],[88.6,0.8],[88.9,0.65],[89.0,0.6],[89.5,0.6],[89.8,1.0],[90,1.3]];
const gripTestAct: Pt[] = [[45,0.75],[45.15,0.66],[45.3,0.7],[45.45,1.05],[45.55,1.25],[45.7,1.3],[45.9,1.02],[46.0,1.25],[46.2,1.3],[47.4,1.3],[47.6,1.2],[47.75,1.25],[47.9,0.95],[48.1,0.72],[48.3,0.68],[48.5,0.62],[48.7,0.75],[48.85,0.88],[49.0,0.8],[49.2,0.62],[49.4,0.6],[49.6,0.9],[49.8,1.25],[50.0,1.3],[51.6,1.3],[51.8,1.2],[52.0,1.1],[52.2,0.78],[52.4,0.8],[52.6,0.52],[52.8,0.62],[53.0,0.78],[53.2,0.84],[53.4,0.7],[53.6,1.15],[53.8,1.3],[54.6,1.3],[54.8,1.25],[55.0,1.3],[55.2,1.15],[55.4,0.95],[55.6,0.78],[55.8,0.82],[56.0,0.72],[56.2,0.85],[56.4,0.65],[56.6,0.62],[56.9,0.58],[57.2,0.75],[57.4,1.0],[57.7,1.25],[57.9,1.3],[59.3,1.3],[59.5,1.2],[59.7,1.0],[59.9,0.78],[60.1,0.72],[60.3,0.8],[60.5,0.62],[60.7,0.7],[60.9,0.85],[61.1,1.2],[61.3,1.3],[62.0,1.28],[62.2,1.3],[63.0,1.3],[63.2,1.15],[63.4,0.85],[63.6,0.7],[63.8,0.65],[64.0,0.6],[64.2,0.55],[64.4,0.46],[64.6,0.62],[64.8,0.72],[65.0,0.78],[65.2,0.88],[65.4,1.3],[65.8,1.05],[66.0,1.3],[67.1,1.3],[67.3,1.2],[67.5,0.9],[67.7,0.7],[67.9,0.63],[68.1,0.78],[68.3,0.85],[68.6,0.5],[68.8,0.7],[69.0,1.25],[69.2,1.3],[69.6,1.25],[69.8,1.3],[70.6,1.3],[70.8,1.2],[71.0,0.95],[71.2,0.8],[71.4,0.7],[71.6,0.82],[71.8,0.7],[72.0,0.65],[72.2,0.58],[72.4,0.62],[72.6,0.75],[72.8,0.68],[73.0,0.9],[73.3,1.2],[73.5,1.3],[75.4,1.3],[75.6,1.2],[75.8,1.0],[76.0,0.85],[76.2,0.72],[76.4,0.8],[76.6,0.68],[76.8,0.62],[77.0,0.55],[77.2,0.6],[77.4,0.78],[77.6,1.05],[77.9,1.3],[79.5,1.3],[79.7,1.15],[79.9,0.95],[80.1,0.82],[80.3,0.7],[80.5,0.78],[80.7,0.75],[80.9,0.6],[81.1,0.68],[81.3,0.82],[81.5,0.7],[81.7,0.85],[81.9,1.15],[82.1,1.3],[82.5,1.25],[82.7,1.3],[83.7,1.3],[83.9,1.2],[84.1,0.95],[84.3,0.78],[84.5,0.72],[84.7,0.64],[84.9,0.58],[85.1,0.72],[85.3,0.68],[85.5,0.72],[85.7,0.66],[85.9,0.8],[86.1,0.75],[86.4,1.05],[86.7,1.3],[87.0,1.2],[87.2,1.0],[87.4,1.3],[88.2,1.3],[88.4,1.15],[88.6,0.9],[88.8,0.72],[89.0,0.65],[89.2,0.78],[89.4,0.7],[89.6,0.62],[89.8,0.75],[90,1.0]];

// ---------- layout ----------
const PW = 212;
const PH = 164;
const YW = 48;
const MT = 8;
const MR = 12;
const XH = 26;
const colLeft = [58, 313, 569, 824];
const rowTop = [24, 221, 418];
const BLUE = '#0000ff';
const RED = '#ff0000';
const MAGENTA = '#c000c0';
const REF_COLOR = '#3c3c3c';
const FONT = 'DejaVu Sans, Verdana, sans-serif';

interface PanelSpec {
  row: number;
  col: number;
  xDomain: [number, number];
  xTicks: number[];
  yDomain: [number, number];
  yTicks: number[];
  refPts: Pt[];
  actPts: Pt[];
  color: string;
}

const panels: PanelSpec[] = [
  { row: 0, col: 0, xDomain: [45, 90], xTicks: xTicksSec, yDomain: [3.5, 6.5], yTicks: yTicksRot, refPts: rotTeleRef, actPts: rotTeleAct, color: BLUE },
  { row: 0, col: 1, xDomain: [45, 90], xTicks: xTicksSec, yDomain: [3.0, 6.5], yTicks: yTicksRotEarly, refPts: rotEarlyRef, actPts: rotEarlyAct, color: BLUE },
  { row: 0, col: 2, xDomain: [2605, 2650], xTicks: xTicksEnd, yDomain: [3.5, 6.5], yTicks: yTicksRot, refPts: rotEndRef, actPts: rotEndAct, color: BLUE },
  { row: 0, col: 3, xDomain: [45, 90], xTicks: xTicksSec, yDomain: [3.5, 6.5], yTicks: yTicksRot, refPts: rotTestRef, actPts: rotTestAct, color: BLUE },
  { row: 1, col: 0, xDomain: [45, 90], xTicks: xTicksSec, yDomain: [2.8, 4.2], yTicks: yTicksFlex, refPts: flexTeleRef, actPts: flexTeleAct, color: RED },
  { row: 1, col: 1, xDomain: [45, 90], xTicks: xTicksSec, yDomain: [2.6, 4.4], yTicks: yTicksFlexEarly, refPts: flexEarlyRef, actPts: flexEarlyAct, color: RED },
  { row: 1, col: 2, xDomain: [2605, 2650], xTicks: xTicksEnd, yDomain: [2.8, 4.4], yTicks: yTicksFlexEnd, refPts: flexEndRef, actPts: flexEndAct, color: RED },
  { row: 1, col: 3, xDomain: [45, 90], xTicks: xTicksSec, yDomain: [2.8, 4.2], yTicks: yTicksFlex, refPts: flexTestRef, actPts: flexTestAct, color: RED },
  { row: 2, col: 0, xDomain: [45, 90], xTicks: xTicksSec, yDomain: [0.5, 1.4], yTicks: yTicksGripTele, refPts: gripTeleRef, actPts: gripTeleAct, color: MAGENTA },
  { row: 2, col: 1, xDomain: [45, 90], xTicks: xTicksSec, yDomain: [0.4, 1.4], yTicks: yTicksGrip, refPts: gripEarlyRef, actPts: gripEarlyAct, color: MAGENTA },
  { row: 2, col: 2, xDomain: [2605, 2650], xTicks: xTicksEnd, yDomain: [0.4, 1.4], yTicks: yTicksGrip, refPts: gripEndRef, actPts: gripEndAct, color: MAGENTA },
  { row: 2, col: 3, xDomain: [45, 90], xTicks: xTicksSec, yDomain: [0.4, 1.4], yTicks: yTicksGrip, refPts: gripTestRef, actPts: gripTestAct, color: MAGENTA },
];

const toRows = (pts: Pt[]) => pts.map(([x, y]) => ({ x, y }));

function Panel({ spec }: { spec: PanelSpec }) {
  const left = colLeft[spec.col];
  const top = rowTop[spec.row];
  const refData = toRows(spec.refPts);
  const actData = toRows(spec.actPts);

  const renderXTick = (p: any) => {
    const x = p.x;
    return (
      <g>
        <line x1={x} x2={x} y1={MT + PH} y2={MT + PH - 4} stroke="#000" strokeWidth={0.8} />
        <line x1={x} x2={x} y1={MT} y2={MT + 4} stroke="#000" strokeWidth={0.8} />
        <text x={x} y={MT + PH + 11} textAnchor="middle" fontSize={9} fontFamily={FONT} fill="#1a1a1a">
          {String(p.payload.value)}
        </text>
      </g>
    );
  };
  const renderYTick = (p: any) => {
    const y = p.y;
    return (
      <g>
        <line x1={YW} x2={YW + 4} y1={y} y2={y} stroke="#000" strokeWidth={0.8} />
        <line x1={YW + PW} x2={YW + PW - 4} y1={y} y2={y} stroke="#000" strokeWidth={0.8} />
        <text x={YW - 4} y={y} dy="0.35em" textAnchor="end" fontSize={9} fontFamily={FONT} fill="#1a1a1a">
          {Number(p.payload.value).toFixed(1)}
        </text>
      </g>
    );
  };

  return (
    <div style={{ position: 'absolute', left: left - YW, top: top - MT }}>
      <LineChart width={YW + PW + MR} height={MT + PH + XH} margin={{ top: MT, right: MR, bottom: 0, left: 0 }}>
        <XAxis
          type="number"
          dataKey="x"
          domain={spec.xDomain}
          ticks={spec.xTicks}
          allowDataOverflow
          interval={0}
          tickLine={false}
          axisLine={false}
          tickSize={0}
          tickMargin={0}
          height={XH}
          tick={renderXTick}
        />
        <YAxis
          type="number"
          domain={spec.yDomain}
          ticks={spec.yTicks}
          allowDataOverflow
          interval={0}
          tickLine={false}
          axisLine={false}
          tickSize={0}
          tickMargin={0}
          width={YW}
          tick={renderYTick}
        />
        <Line data={refData} dataKey="y" type="linear" stroke={REF_COLOR} strokeWidth={1.1} dot={false} activeDot={false} isAnimationActive={false} />
        <Line data={actData} dataKey="y" type="linear" stroke={spec.color} strokeWidth={1} dot={false} activeDot={false} isAnimationActive={false} />
        <ReferenceArea
          x1={spec.xDomain[0]}
          x2={spec.xDomain[1]}
          y1={spec.yDomain[0]}
          y2={spec.yDomain[1]}
          fill="none"
          fillOpacity={0}
          stroke="#000"
          strokeWidth={1}
          ifOverflow="visible"
        />
      </LineChart>
    </div>
  );
}

export default function App() {
  const rowCenters = rowTop.map((t) => t + PH / 2);
  return (
    <div style={{ position: 'fixed', left: 0, top: 0, width: 1045, height: 613, background: '#fff', overflow: 'hidden' }}>
      {panels.map((p) => (
        <Panel key={`${p.row}-${p.col}`} spec={p} />
      ))}
      <svg width={1045} height={613} style={{ position: 'absolute', left: 0, top: 0, pointerEvents: 'none' }}>
        {columnTitles.map((t, i) => (
          <text key={t} x={colLeft[i] + PW / 2} y={16} textAnchor="middle" dominantBaseline="central" fontFamily={FONT} fontWeight="bold" fontSize={13.5} fill="#000">
            {t}
          </text>
        ))}
        {columnTitles.map((t, i) => (
          <text key={`xl-${t}`} x={colLeft[i] + PW / 2} y={604} textAnchor="middle" dominantBaseline="central" fontFamily={FONT} fontWeight="bold" fontSize={13.5} fill="#000">
            {xLabel}
          </text>
        ))}
        {rowLabels.map((r, i) => (
          <g key={r}>
            <text transform={`translate(14, ${rowCenters[i]}) rotate(-90)`} textAnchor="middle" dominantBaseline="central" fontFamily={FONT} fontWeight="bold" fontSize={13.5} fill="#000">
              {r}
            </text>
            <text transform={`translate(30, ${rowCenters[i]}) rotate(-90)`} textAnchor="middle" dominantBaseline="central" fontFamily={FONT} fontWeight="bold" fontSize={13.5} fill="#000">
              {rowSubLabel}
            </text>
          </g>
        ))}
      </svg>
    </div>
  );
}
